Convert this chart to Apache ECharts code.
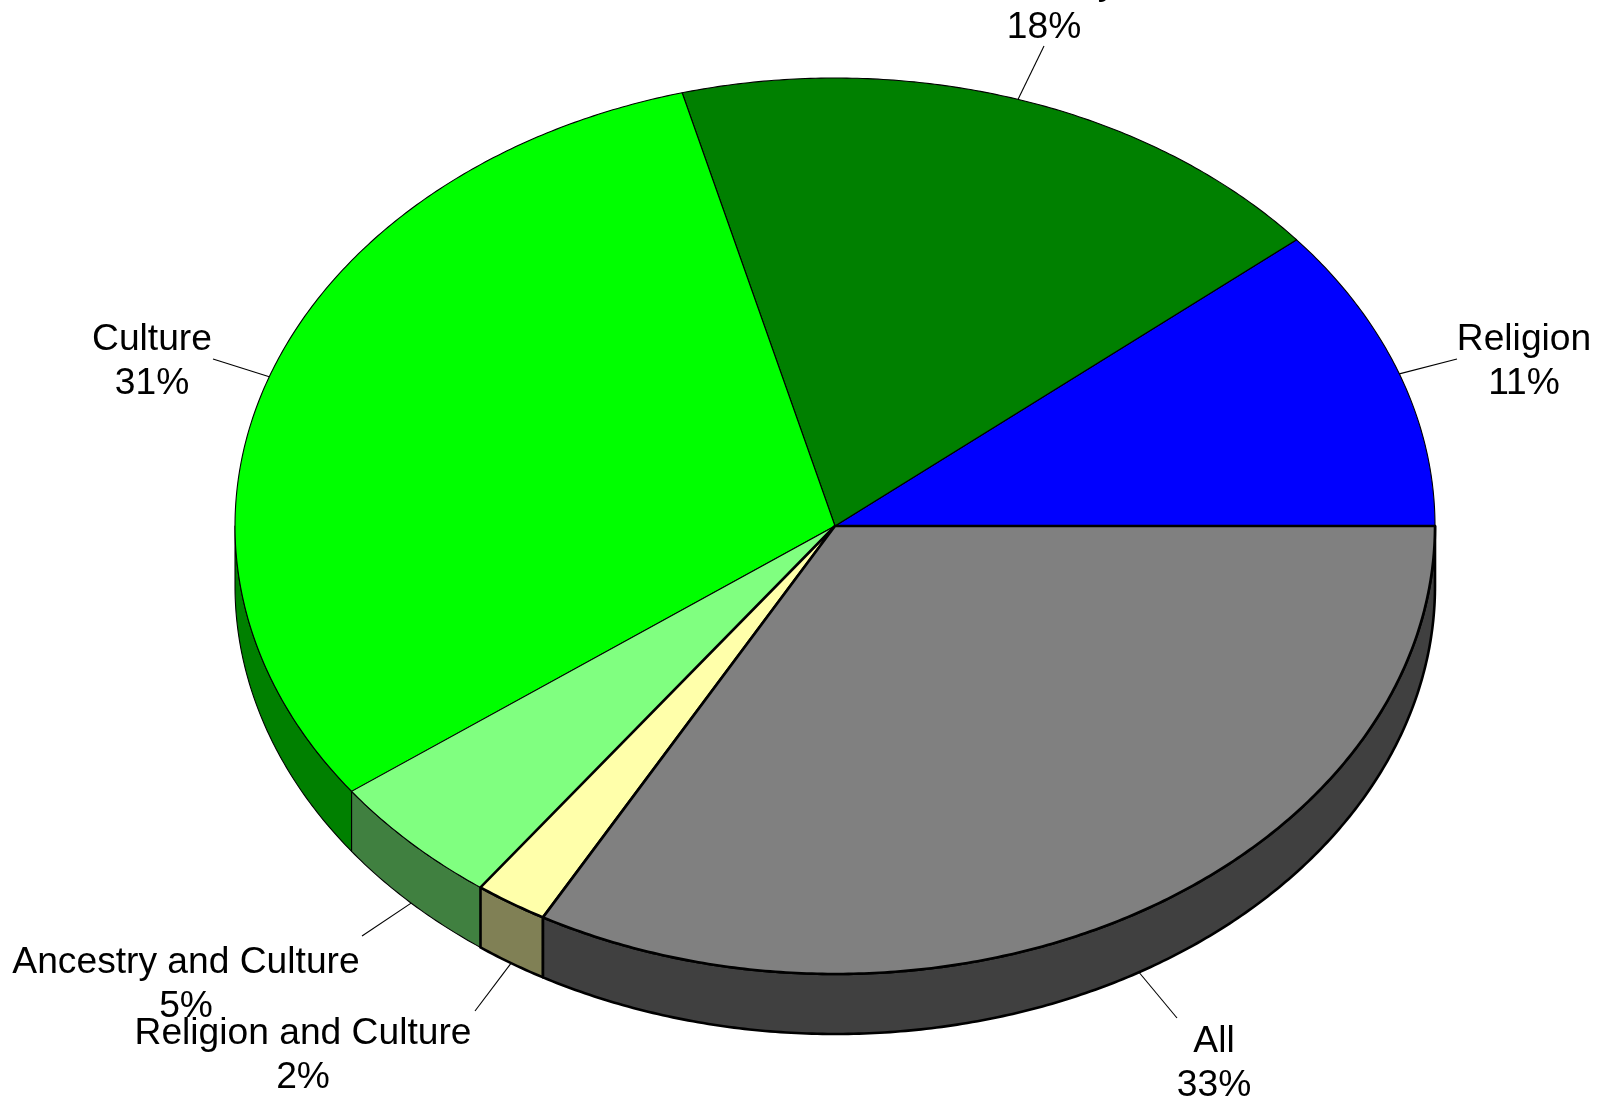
<!DOCTYPE html>
<html>
<head>
<meta charset="utf-8">
<style>html,body{margin:0;padding:0;background:#fff;overflow:hidden}#c{width:1601px;height:1101px}</style>
<script src="https://cdn.jsdelivr.net/npm/echarts@6/dist/echarts.min.js"></script>
</head>
<body>
<div id="c"></div>
<script>
const categories = ['Religion', 'Ancestry', 'Culture', 'Ancestry and Culture', 'Religion and Culture', 'All'];
const values = [11.03, 18.07, 30.99, 4.85, 1.97, 33.09];
const topColors = ['#0000ff', '#008000', '#00ff00', '#80ff80', '#ffffaa', '#808080'];
const sideColors = ['#000080', '#004000', '#008000', '#408040', '#808055', '#404040'];
const borderWidths = [1.1, 1.1, 1.1, 1.1, 2.6, 2.6];
// leader-line end and label centre, per slice (layout only)
const leaderEnds = [[1457, 359], [1044, 46], [213, 359], [362, 936], [475, 1011], [1177, 1018]];
const labelCenters = [[1524, 362], [1044, 6], [152, 362], [186, 985], [303, 1055.5], [1214, 1063.5]];

const CX = 835, CY = 526, RX = 600, RY = 448, DEPTH = 60;
const total = values.reduce((a, b) => a + b, 0);
const spans = [];
let acc = 0;
values.forEach(v => { const s = acc / total * 360; acc += v; spans.push([s, acc / total * 360]); });
const pt = (deg, dy) => {
  const r = deg * Math.PI / 180;
  return [CX + RX * Math.cos(r), CY - RY * Math.sin(r) + (dy || 0)];
};
const arc = (a0, a1, dy) => {
  const pts = [], n = Math.max(2, Math.ceil(Math.abs(a1 - a0) * 2));
  for (let i = 0; i <= n; i++) pts.push(pt(a0 + (a1 - a0) * i / n, dy));
  return pts;
};
const idx = values.map((_, i) => i);

function renderSide(p) {
  const i = p.dataIndex;
  const a0 = Math.max(spans[i][0], 180), a1 = Math.min(spans[i][1], 360);
  if (a1 <= a0) return { type: 'group', children: [] };
  const points = arc(a0, a1, 0).concat(arc(a1, a0, DEPTH));
  return { type: 'polygon', shape: { points },
    style: { fill: sideColors[i], stroke: '#000', lineWidth: borderWidths[i], lineJoin: 'round' } };
}
function renderTop(p) {
  const i = p.dataIndex;
  const points = [[CX, CY]].concat(arc(spans[i][0], spans[i][1], 0));
  return { type: 'polygon', shape: { points },
    style: { fill: topColors[i], stroke: '#000', lineWidth: borderWidths[i], lineJoin: 'round' } };
}
function renderLabel(p) {
  const i = p.dataIndex;
  const mid = (spans[i][0] + spans[i][1]) / 2;
  const start = pt(mid, mid > 180 ? DEPTH : 0);
  return { type: 'group', children: [
    { type: 'line', shape: { x1: start[0], y1: start[1], x2: leaderEnds[i][0], y2: leaderEnds[i][1] },
      style: { stroke: '#000', lineWidth: 1.1 } },
    { type: 'text', style: {
        text: categories[i] + '\n' + Math.round(values[i]) + '%',
        x: labelCenters[i][0], y: labelCenters[i][1],
        align: 'center', verticalAlign: 'middle',
        fontFamily: '"Liberation Sans", Arial, sans-serif', fontSize: 37.2, lineHeight: 44, fill: '#000' } }
  ] };
}
const chart = echarts.init(document.getElementById('c'), null, { renderer: 'canvas' });
chart.setOption({
  animation: false,
  backgroundColor: '#ffffff',
  series: [
    { type: 'custom', coordinateSystem: 'none', silent: true, z: 1, data: idx, renderItem: renderSide },
    { type: 'custom', coordinateSystem: 'none', silent: true, z: 2, data: idx, renderItem: renderLabel },
    { type: 'custom', coordinateSystem: 'none', silent: true, z: 3, data: idx, renderItem: renderTop }
  ]
});
</script>
</body>
</html>
